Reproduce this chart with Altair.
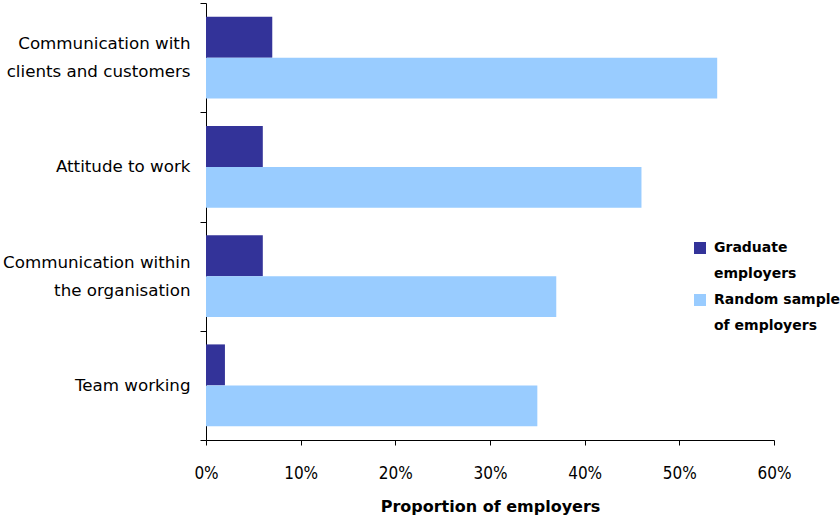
import altair as alt
import pandas as pd

categories = [
    "Communication with\nclients and customers",
    "Attitude to work",
    "Communication within\nthe organisation",
    "Team working",
]
series = ["Graduate employers", "Random sample of employers"]
graduate = [7, 6, 6, 2]
random_sample = [54, 46, 37, 35]
x_ticks = [0, 0.1, 0.2, 0.3, 0.4, 0.5, 0.6]
series_colors = ["#333399", "#99CCFF"]

# legend lines: each series name is wrapped over two legend rows
legend_domain = [series[0], series[0] + " ", series[1], series[1] + " "]
legend_range = [series_colors[0], "transparent", series_colors[1], "transparent"]
legend_text = ["Graduate", "employers", "Random sample", "of employers"]

rows = []
for c, g, r in zip(categories, graduate, random_sample):
    rows.append({"category": c, "series": series[0], "value": g / 100})
    rows.append({"category": c, "series": series[1], "value": r / 100})
df = pd.DataFrame(rows)

label_expr = " : ".join(
    f"datum.label == '{d}' ? '{t}'" for d, t in zip(legend_domain[:-1], legend_text[:-1])
) + f" : '{legend_text[-1]}'"

FONT = "DejaVu Sans"
NARROW = "Liberation Sans Narrow, Arial Narrow, DejaVu Sans Condensed, DejaVu Sans"

chart = (
    alt.Chart(df)
    .mark_bar()
    .encode(
        y=alt.Y(
            "category:N",
            sort=categories,
            scale=alt.Scale(paddingInner=0, paddingOuter=0),
            axis=alt.Axis(
                title=None,
                labelExpr="split(datum.label, '\\n')",
                labelLineHeight=28,
                labelFontSize=16.7,
                labelFont=FONT,
                labelColor="#000000",
                labelPadding=10,
                labelOffset={
                    "condition": {"test": "indexof(datum.label, '\\n') >= 0", "value": -14},
                    "value": 0,
                },
                tickBand="extent",
                tickSize=6,
                tickColor="#000000",
                domainColor="#000000",
                labelLimit=300,
            ),
        ),
        yOffset=alt.YOffset(
            "series:N",
            sort=series,
            scale=alt.Scale(paddingInner=0, paddingOuter=1 / 3),
        ),
        x=alt.X(
            "value:Q",
            scale=alt.Scale(domain=[0, 0.6], nice=False),
            axis=alt.Axis(
                values=x_ticks,
                format=".0%",
                title="Proportion of employers",
                titleFont=FONT,
                titleFontSize=16,
                titleFontWeight="bold",
                titleColor="#000000",
                titlePadding=17,
                labelFont=NARROW,
                labelFontSize=17,
                labelColor="#000000",
                labelPadding=20,
                labelFlush=False,
                tickSize=5,
                tickColor="#000000",
                domainColor="#000000",
                grid=False,
            ),
        ),
        color=alt.Color(
            "series:N",
            scale=alt.Scale(domain=legend_domain, range=legend_range),
            legend=alt.Legend(
                title=None,
                orient="none",
                legendX=487,
                legendY=238,
                symbolType="square",
                symbolSize=144,
                symbolStrokeWidth=0,
                labelFont=FONT,
                labelFontSize=14,
                labelFontWeight="bold",
                labelColor="#000000",
                labelOffset=7,
                labelExpr=label_expr,
                labelLimit=300,
                rowPadding=12,
            ),
        ),
    )
    .properties(
        width=568,
        height=437,
        background="white",
        autosize=alt.AutoSizeParams(type="none"),
        padding={"left": 206, "top": 3, "right": 66, "bottom": 75},
    )
    .configure_view(stroke=None)
)

chart.save("out.html", embed_options={"renderer": "svg", "actions": False})
